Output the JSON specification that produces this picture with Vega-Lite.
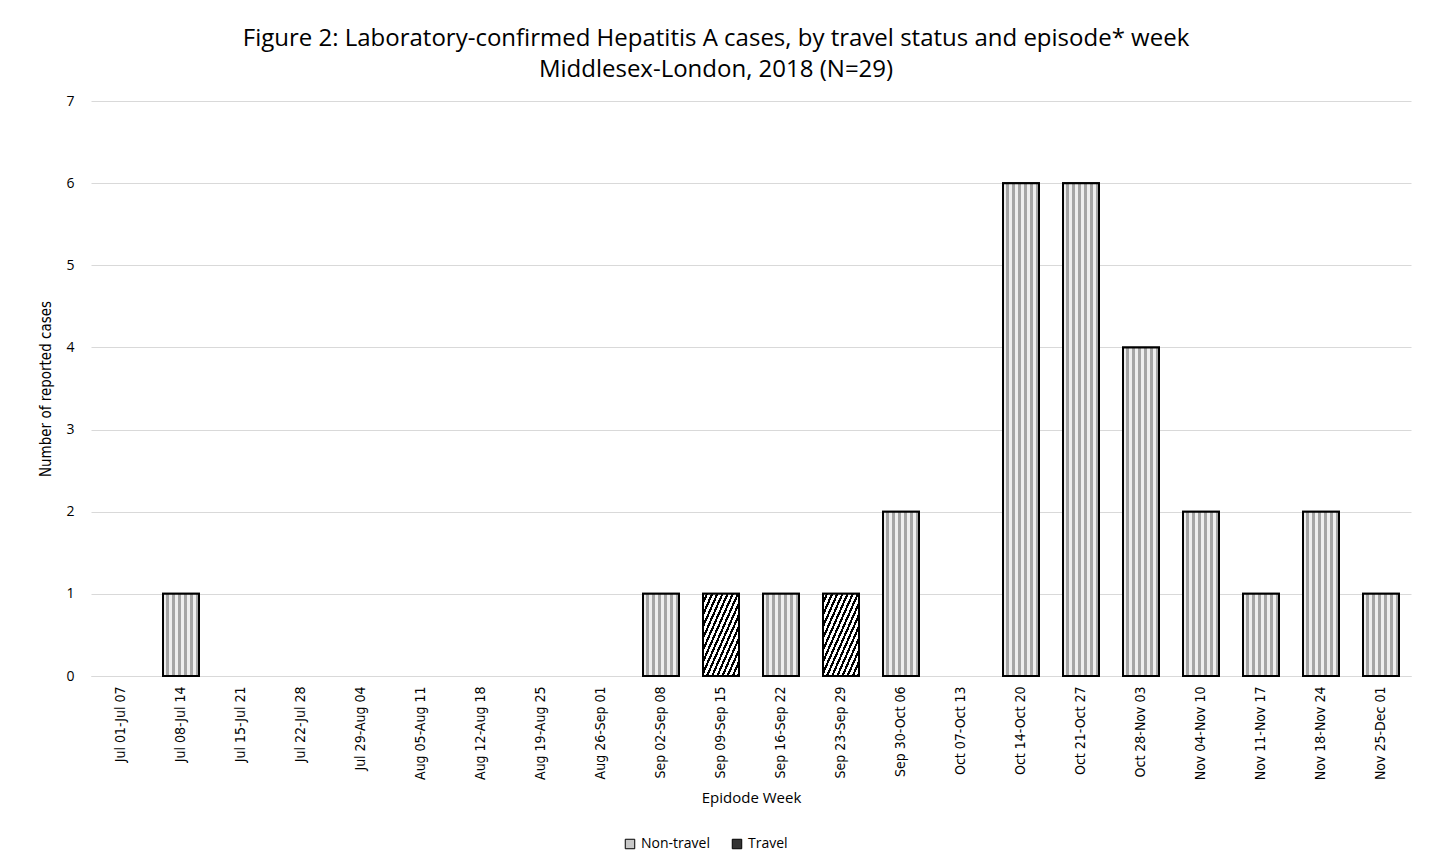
{
  "$schema": "https://vega.github.io/schema/vega-lite/v6.json",
  "width": 1320,
  "height": 575,
  "autosize": {"type": "pad"},
  "padding": {"left": 38, "top": 27, "right": 10, "bottom": 10},
  "background": "white",
  "title": {
    "text": ["Figure 2: Laboratory-confirmed  Hepatitis A cases, by travel status and episode*  week", "Middlesex-London, 2018 (N=29)"],
    "font": "Open Sans",
    "fontSize": 24,
    "fontWeight": "normal",
    "color": "#000000",
    "lineHeight": 31,
    "offset": 12,
    "anchor": "middle",
    "dx": -35
  },
  "data": {
    "values": [
      {"week": "Jul 08-Jul 14", "status": "Non-travel", "cases": 1},
      {"week": "Sep 02-Sep 08", "status": "Non-travel", "cases": 1},
      {"week": "Sep 09-Sep 15", "status": "Travel", "cases": 1},
      {"week": "Sep 16-Sep 22", "status": "Non-travel", "cases": 1},
      {"week": "Sep 23-Sep 29", "status": "Travel", "cases": 1},
      {"week": "Sep 30-Oct 06", "status": "Non-travel", "cases": 2},
      {"week": "Oct 14-Oct 20", "status": "Non-travel", "cases": 6},
      {"week": "Oct 21-Oct 27", "status": "Non-travel", "cases": 6},
      {"week": "Oct 28-Nov 03", "status": "Non-travel", "cases": 4},
      {"week": "Nov 04-Nov 10", "status": "Non-travel", "cases": 2},
      {"week": "Nov 11-Nov 17", "status": "Non-travel", "cases": 1},
      {"week": "Nov 18-Nov 24", "status": "Non-travel", "cases": 2},
      {"week": "Nov 25-Dec 01", "status": "Non-travel", "cases": 1}
    ]
  },
  "encoding": {
    "x": {
      "field": "week",
      "type": "nominal",
      "title": "Epidode Week",
      "scale": {
        "domain": ["Jul 01-Jul 07", "Jul 08-Jul 14", "Jul 15-Jul 21", "Jul 22-Jul 28", "Jul 29-Aug 04", "Aug 05-Aug 11", "Aug 12-Aug 18", "Aug 19-Aug 25", "Aug 26-Sep 01", "Sep 02-Sep 08", "Sep 09-Sep 15", "Sep 16-Sep 22", "Sep 23-Sep 29", "Sep 30-Oct 06", "Oct 07-Oct 13", "Oct 14-Oct 20", "Oct 21-Oct 27", "Oct 28-Nov 03", "Nov 04-Nov 10", "Nov 11-Nov 17", "Nov 18-Nov 24", "Nov 25-Dec 01"],
        "paddingInner": 0.4,
        "paddingOuter": 0.2
      },
      "axis": {
        "labelAngle": -90,
        "labelFont": "DejaVu Sans Condensed, Roboto, sans-serif",
        "labelFontSize": 14,
        "labelColor": "#000000",
        "labelPadding": 10,
        "ticks": false,
        "domainColor": "#d9d9d9",
        "domainWidth": 1,
        "titleFont": "Open Sans",
        "titleFontSize": 15,
        "titleFontWeight": "normal",
        "titleColor": "#000000",
        "titlePadding": 11
      }
    },
    "y": {
      "field": "cases",
      "type": "quantitative",
      "title": "Number of reported cases",
      "scale": {"domain": [0, 7]},
      "axis": {
        "values": [0, 1, 2, 3, 4, 5, 6, 7],
        "labelFont": "Open Sans",
        "labelFontSize": 14,
        "labelColor": "#000000",
        "labelPadding": 17,
        "ticks": false,
        "domain": false,
        "grid": true,
        "gridColor": "#d9d9d9",
        "gridWidth": 1,
        "titleFont": "DejaVu Sans Condensed, Roboto, sans-serif",
        "titleFontSize": 15,
        "titleFontWeight": "normal",
        "titleColor": "#000000",
        "titlePadding": 12
      }
    }
  },
  "layer": [
    {
      "mark": {"type": "bar", "stroke": "black", "strokeWidth": 2},
      "encoding": {
        "color": {
          "field": "status",
          "type": "nominal",
          "scale": {"domain": ["Non-travel", "Travel"], "range": ["#c8c8c8", "#333333"]},
          "legend": {
            "orient": "none",
            "legendX": 532,
            "legendY": 736,
            "direction": "horizontal",
            "title": null,
            "symbolType": "square",
            "symbolSize": 90,
            "symbolStrokeColor": "black",
            "symbolStrokeWidth": 1,
            "labelFont": "Open Sans",
            "labelFontSize": 14,
            "labelColor": "#000000",
            "columnPadding": 20
          }
        }
      }
    },
    {
      "transform": [{"filter": "datum.status === 'Non-travel'"}],
      "mark": {
        "type": "bar",
        "stroke": "black",
        "strokeWidth": 2,
        "fill": {
          "gradient": "linear",
          "x1": 0, "y1": 0, "x2": 1, "y2": 0,
          "stops": [
            {"offset": 0, "color": "#eeeeee"}, {"offset": 0.0833, "color": "#eeeeee"},
            {"offset": 0.0833, "color": "#a5a5a5"}, {"offset": 0.1667, "color": "#a5a5a5"},
            {"offset": 0.1667, "color": "#eeeeee"}, {"offset": 0.25, "color": "#eeeeee"},
            {"offset": 0.25, "color": "#a5a5a5"}, {"offset": 0.3333, "color": "#a5a5a5"},
            {"offset": 0.3333, "color": "#eeeeee"}, {"offset": 0.4167, "color": "#eeeeee"},
            {"offset": 0.4167, "color": "#a5a5a5"}, {"offset": 0.5, "color": "#a5a5a5"},
            {"offset": 0.5, "color": "#eeeeee"}, {"offset": 0.5833, "color": "#eeeeee"},
            {"offset": 0.5833, "color": "#a5a5a5"}, {"offset": 0.6667, "color": "#a5a5a5"},
            {"offset": 0.6667, "color": "#eeeeee"}, {"offset": 0.75, "color": "#eeeeee"},
            {"offset": 0.75, "color": "#a5a5a5"}, {"offset": 0.8333, "color": "#a5a5a5"},
            {"offset": 0.8333, "color": "#eeeeee"}, {"offset": 0.9167, "color": "#eeeeee"},
            {"offset": 0.9167, "color": "#a5a5a5"}, {"offset": 1, "color": "#a5a5a5"}
          ]
        }
      }
    },
    {
      "transform": [{"filter": "datum.status === 'Travel'"}],
      "mark": {
        "type": "bar",
        "stroke": "black",
        "strokeWidth": 2,
        "fill": {
          "gradient": "linear",
          "x1": 0, "y1": 0, "x2": 1, "y2": 1,
          "stops": [
            {"offset": 0, "color": "#ffffff"}, {"offset": 0.0393, "color": "#ffffff"}, {"offset": 0.0393, "color": "#000000"}, {"offset": 0.0714, "color": "#000000"},
            {"offset": 0.0714, "color": "#ffffff"}, {"offset": 0.1107, "color": "#ffffff"}, {"offset": 0.1107, "color": "#000000"}, {"offset": 0.1429, "color": "#000000"},
            {"offset": 0.1429, "color": "#ffffff"}, {"offset": 0.1821, "color": "#ffffff"}, {"offset": 0.1821, "color": "#000000"}, {"offset": 0.2143, "color": "#000000"},
            {"offset": 0.2143, "color": "#ffffff"}, {"offset": 0.2536, "color": "#ffffff"}, {"offset": 0.2536, "color": "#000000"}, {"offset": 0.2857, "color": "#000000"},
            {"offset": 0.2857, "color": "#ffffff"}, {"offset": 0.325, "color": "#ffffff"}, {"offset": 0.325, "color": "#000000"}, {"offset": 0.3571, "color": "#000000"},
            {"offset": 0.3571, "color": "#ffffff"}, {"offset": 0.3964, "color": "#ffffff"}, {"offset": 0.3964, "color": "#000000"}, {"offset": 0.4286, "color": "#000000"},
            {"offset": 0.4286, "color": "#ffffff"}, {"offset": 0.4679, "color": "#ffffff"}, {"offset": 0.4679, "color": "#000000"}, {"offset": 0.5, "color": "#000000"},
            {"offset": 0.5, "color": "#ffffff"}, {"offset": 0.5393, "color": "#ffffff"}, {"offset": 0.5393, "color": "#000000"}, {"offset": 0.5714, "color": "#000000"},
            {"offset": 0.5714, "color": "#ffffff"}, {"offset": 0.6107, "color": "#ffffff"}, {"offset": 0.6107, "color": "#000000"}, {"offset": 0.6429, "color": "#000000"},
            {"offset": 0.6429, "color": "#ffffff"}, {"offset": 0.6821, "color": "#ffffff"}, {"offset": 0.6821, "color": "#000000"}, {"offset": 0.7143, "color": "#000000"},
            {"offset": 0.7143, "color": "#ffffff"}, {"offset": 0.7536, "color": "#ffffff"}, {"offset": 0.7536, "color": "#000000"}, {"offset": 0.7857, "color": "#000000"},
            {"offset": 0.7857, "color": "#ffffff"}, {"offset": 0.825, "color": "#ffffff"}, {"offset": 0.825, "color": "#000000"}, {"offset": 0.8571, "color": "#000000"},
            {"offset": 0.8571, "color": "#ffffff"}, {"offset": 0.8964, "color": "#ffffff"}, {"offset": 0.8964, "color": "#000000"}, {"offset": 0.9286, "color": "#000000"},
            {"offset": 0.9286, "color": "#ffffff"}, {"offset": 0.9679, "color": "#ffffff"}, {"offset": 0.9679, "color": "#000000"}, {"offset": 1, "color": "#000000"}
          ]
        }
      }
    }
  ],
  "config": {
    "view": {"stroke": null}
  }
}
